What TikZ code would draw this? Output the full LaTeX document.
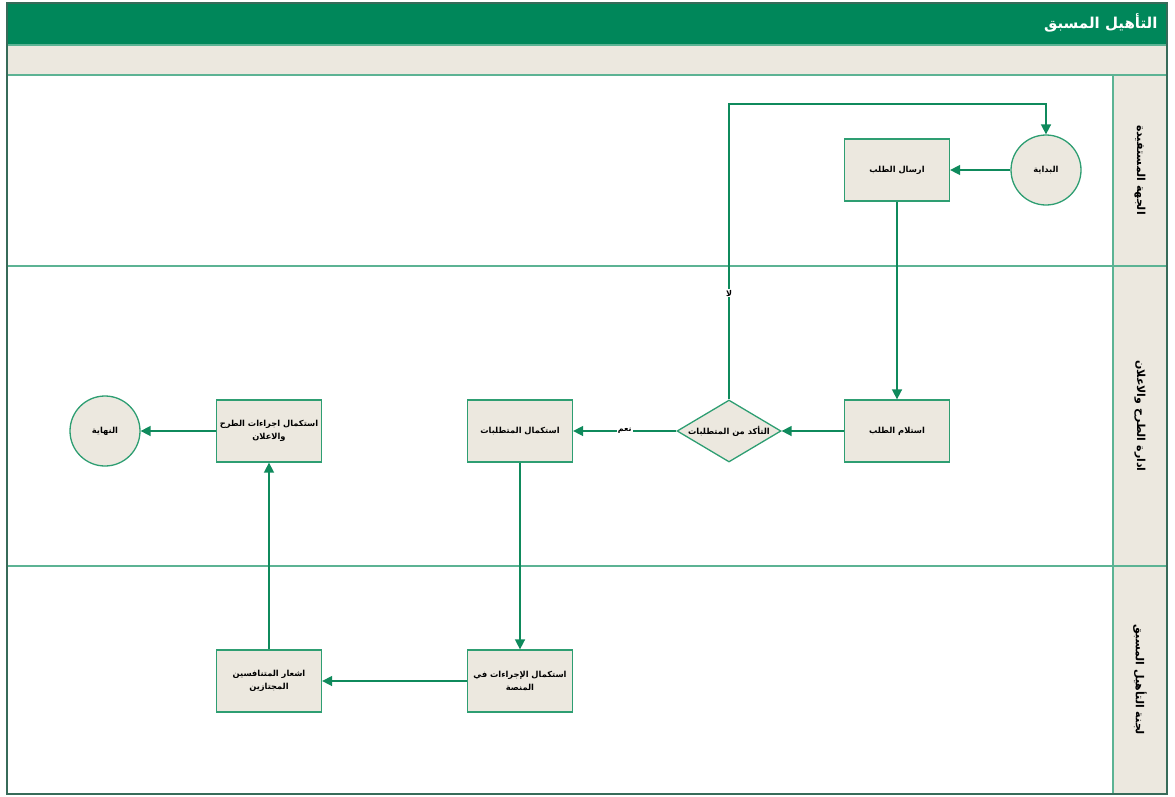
\documentclass[tikz,border=0pt]{standalone}
\usepackage{fontspec}
\setmainfont{DejaVu Sans}
\newfontfamily\arabicfont[Script=Arabic]{DejaVu Sans}
\TeXXeTstate=1
\usetikzlibrary{shapes.geometric,arrows.meta}
\definecolor{hdrgreen}{HTML}{00875A}
\definecolor{lanegreen}{HTML}{5CB394}
\definecolor{linegreen}{HTML}{0F8A5C}
\definecolor{boxline}{HTML}{2E9E72}
\definecolor{beige}{HTML}{ECE8DF}
\begin{document}
\begin{tikzpicture}[x=1pt,y=-1pt,
  procbox/.style={draw=boxline,line width=1.3pt,fill=beige,minimum width=105pt,minimum height=62pt,inner sep=2pt,align=center,font=\arabicfont\bfseries\fontsize{8.3}{13}\selectfont},
  termnode/.style={circle,draw=boxline,line width=1.3pt,fill=beige,minimum size=70pt,inner sep=0pt,font=\arabicfont\bfseries\fontsize{8.3}{10}\selectfont},
  decnode/.style={diamond,draw=boxline,line width=1.3pt,fill=beige,minimum width=104pt,minimum height=62pt,inner sep=0pt,aspect=1.67,font=\arabicfont\bfseries\fontsize{8.3}{10}\selectfont},
  flow/.style={draw=linegreen,line width=1.6pt,-{Triangle[length=10pt,width=10pt]}},
  lanelbl/.style={rotate=-90,font=\arabicfont\bfseries\fontsize{11}{13}\selectfont},
  edgelbl/.style={font=\arabicfont\bfseries\fontsize{8}{9}\selectfont,fill=white,inner sep=1pt}]
\useasboundingbox (0,0) rectangle (1175,796);
% frame
\fill[hdrgreen] (7,3) rectangle (1167,45);
\fill[beige] (7,45) rectangle (1167,75);
\fill[beige] (1113,75) rectangle (1167,794);
\draw[lanegreen,line width=1.6pt] (7,45) -- (1167,45);
\draw[lanegreen,line width=1.6pt] (7,75) -- (1167,75);
\draw[lanegreen,line width=1.6pt] (7,266) -- (1167,266);
\draw[lanegreen,line width=1.6pt] (7,566) -- (1167,566);
\draw[lanegreen,line width=1.6pt] (1113,75) -- (1113,794);
\draw[lanegreen!60!black,line width=1.2pt] (7,3) rectangle (1167,794);
\node[anchor=east,text=white,font=\arabicfont\bfseries\fontsize{15}{17}\selectfont] (title) at (1161,23) {\beginR التأهيل المسبق\endR};
\node[lanelbl] (lane1) at (1140,170) {\beginR الجهة المستفيدة\endR};
\node[lanelbl] (lane2) at (1140,416) {\beginR ادارة الطرح والاعلان\endR};
\node[lanelbl] (lane3) at (1140,680) {\beginR لجنة التأهيل المسبق\endR};
% nodes
\node[termnode] (start) at (1046,170) {\beginR البداية\endR};
\node[procbox] (send) at (897,170) {\beginR ارسال الطلب\endR};
\node[procbox] (recv) at (897,431) {\beginR استلام الطلب\endR};
\node[decnode] (check) at (729,431) {\beginR التأكد من المتطلبات\endR};
\node[procbox] (compreq) at (520,431) {\beginR استكمال المتطلبات\endR};
\node[procbox] (compoffer) at (269,431) {\beginR استكمال اجراءات الطرح\endR\\\beginR والاعلان\endR};
\node[termnode] (finish) at (105,431) {\beginR النهاية\endR};
\node[procbox] (platform) at (520,681) {\beginR استكمال الإجراءات في\endR\\\beginR المنصة\endR};
\node[procbox] (notify) at (269,681) {\beginR اشعار المتنافسين\endR\\\beginR المجتازين\endR};
\coordinate (c1) at (729,104);
\coordinate (c2) at (1046,104);
% connectors
\draw[flow] (start) -- (send);
\draw[flow] (send) -- (recv);
\draw[flow] (recv) -- (check);
\draw[flow] (check) -- node[edgelbl,pos=0.5] {\beginR نعم\endR} (compreq);
\draw[flow] (check.north) -- node[edgelbl,pos=0.36] {\beginR لا\endR} (c1) -- (c2) -- (start.north);
\draw[flow] (compreq) -- (platform);
\draw[flow] (platform) -- (notify);
\draw[flow] (notify) -- (compoffer);
\draw[flow] (compoffer) -- (finish);
\end{tikzpicture}
\end{document}
